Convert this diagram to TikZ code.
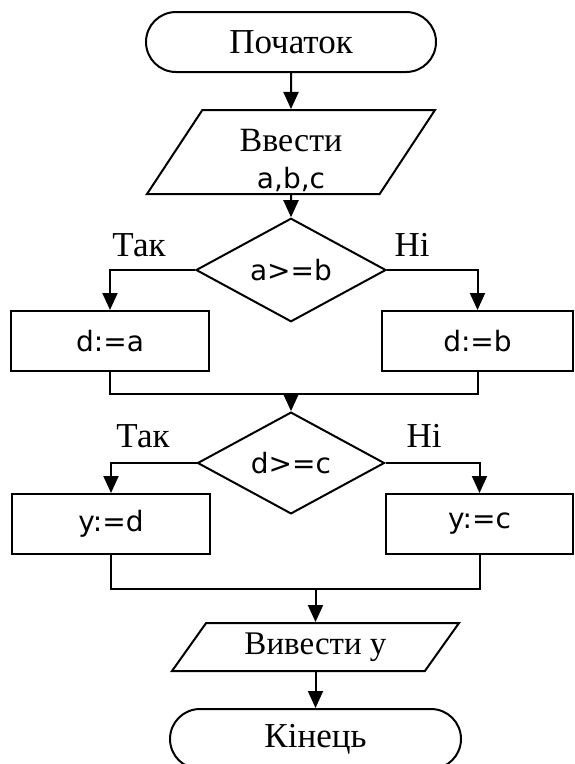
\documentclass[tikz,border=0pt]{standalone}
\usepackage{fontspec}
\setmainfont{Liberation Serif}
\setsansfont{DejaVu Sans}
\usepackage{tikz}
\usetikzlibrary{arrows.meta, shapes.geometric, shapes.misc, positioning}

\begin{document}
\begin{tikzpicture}[x=1pt, y=-1pt, >={Triangle[length=17pt, width=15pt]},
  line width=2pt,
  every node/.style={font=\fontsize{35}{40}\selectfont},
  term/.style={draw, rounded rectangle, minimum width=290pt, minimum height=60pt, inner sep=0pt},
  io/.style={draw, trapezium, trapezium stretches body, inner sep=0pt},
  cond/.style={draw, diamond, inner sep=0pt, font=\sffamily\fontsize{28}{32}\selectfont},
  act/.style={draw, rectangle, minimum height=60pt, inner sep=0pt, font=\sffamily\fontsize{28}{32}\selectfont},
  lbl/.style={inner sep=0pt}]

\useasboundingbox (0,0) rectangle (574,764);

% -------------------------------------------------------
% 1. Start and input
% -------------------------------------------------------
\node[term] (start) at (291,42) {Початок};
\node[io, trapezium left angle=55.4, trapezium right angle=124.6,
  minimum width=288pt, minimum height=84pt, align=center,
  font=\fontsize{34}{37}\selectfont] (input) at (291,152)
  {\rule{0pt}{40pt}Ввести\\{\sffamily\fontsize{28}{37}\selectfont a,b,c}};

% -------------------------------------------------------
% 2. First choice: d = max(a,b)
% -------------------------------------------------------
\node[cond, minimum width=190pt, minimum height=92pt] (cmpab) at (291,270) {a>=b};
\node[act, minimum width=198pt] (da) at (110,341) {d:=a};
\node[act, minimum width=191pt] (db) at (477.5,341) {d:=b};
\coordinate (joinab) at (291,394);

\node[lbl] (yesab) at (139,245) {Так};
\node[lbl] (noab) at (412,245) {Ні};

% -------------------------------------------------------
% 3. Second choice: y = max(d,c)
% -------------------------------------------------------
\node[cond, minimum width=187pt, minimum height=90pt] (cmpdc) at (291,463) {d>=c};
\node[act, minimum width=198pt] (yd) at (111,524) {y:=d};
\node[act, minimum width=187pt] (yc) at (479.5,524) {y:=c};
\coordinate (joindc) at (315.5,589);

\node[lbl] (yesdc) at (143,436) {Так};
\node[lbl] (nodc) at (424,436) {Ні};

% -------------------------------------------------------
% 4. Output and end
% -------------------------------------------------------
\node[io, trapezium left angle=40.1, trapezium right angle=139.9,
  minimum width=287pt, minimum height=48pt,
  font=\fontsize{33}{38}\selectfont] (output) at (315.5,647) {Вивести y};
\node[term, minimum width=291pt] (stop) at (315.5,739) {Кінець};

% -------------------------------------------------------
% 5. Connectors
% -------------------------------------------------------
\draw[->] (start) -- (input);
\draw[->] (input) -- (cmpab);
\draw[->] (cmpab.west) -| (da.north);
\draw[->] (cmpab.east) -| (db.north);
\draw (da.south) |- (joinab) -| (db.south);
\draw[->] (joinab) -- (cmpdc.north);

\draw[->] (cmpdc.west) -| (yd.north);
\draw[->] (cmpdc.east) -| (yc.north);
\draw (yd.south) |- (joindc) -| (yc.south);
\draw[->] (joindc) -- (output);
\draw[->] (output) -- (stop);

\end{tikzpicture}
\end{document}
